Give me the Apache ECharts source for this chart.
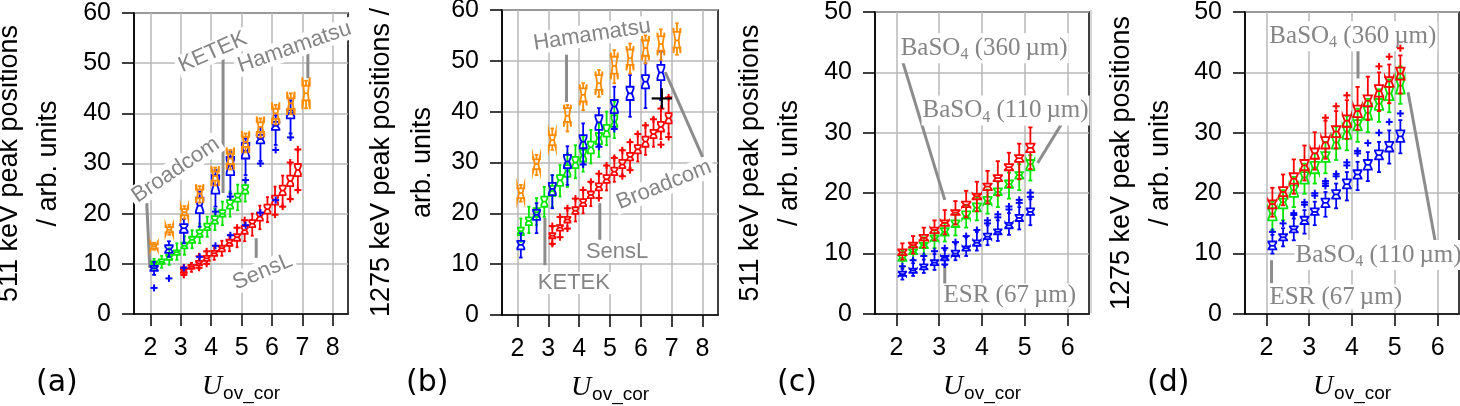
<!DOCTYPE html>
<html><head><meta charset="utf-8">
<script src="https://cdn.jsdelivr.net/npm/echarts@6/dist/echarts.min.js"></script>
<style>html,body{margin:0;padding:0;background:#fff}#c{width:1460px;height:406px}</style>
</head><body><div id="c"></div>
<script>
// ================= DATA =================
// box values: [lowWhisker, q1, median, q3, highWhisker]
// ---- panel (a): 511 keV ----
const aHamX = [2.12,2.62,3.12,3.62,4.13,4.63,5.13,5.62,6.12,6.62,7.12];
const aHam = [[12.8,13.1,13.5,13.9,14.2],[15.8,16.3,16.8,17.3,17.8],[19.0,19.7,20.3,20.9,21.5],[22.2,23.1,24.0,24.8,25.5],[25.6,26.6,27.5,28.4,29.2],[28.8,29.9,31.0,31.9,32.7],[32.2,33.3,34.3,35.3,36.0],[35.2,36.3,37.3,38.2,39.0],[37.8,38.9,40.0,40.9,41.7],[39.8,40.9,42.0,43.0,44.0],[41.0,42.6,44.0,45.5,46.5]];
const aBroX = [2.12,2.61,3.1,3.62,4.14,4.63,5.13,5.62,6.12,6.61];
const aBro = [[7.8,8.6,9.1,9.6,10.4],[11.4,12.2,12.9,13.7,14.5],[14.1,16.2,17.1,17.9,18.9],[17.4,20.1,21.6,23.2,24.4],[21.4,24.0,25.7,27.7,28.7],[24.0,27.7,29.5,31.3,32.3],[27.7,31.0,32.5,34.1,35.0],[30.5,34.0,34.9,35.7,37.3],[33.7,36.7,37.5,38.3,39.6],[36.0,39.0,40.0,40.6,42.6]];
const aBroOut = [[2.12,5.2],[2.61,7.1],[3.1,9.2],[3.62,11.4],[4.14,20.4],[4.14,13.6],[4.63,23.4],[4.63,15.7],[5.13,26.7],[5.13,17.7],[5.62,30.0],[5.62,20.2],[6.12,32.7],[6.12,22.7],[6.61,35.2]];
const aKetX = [2.12,2.37,2.62,2.87,3.12,3.37,3.62,3.87,4.12,4.37,4.62,4.87,5.12];
const aKet = [[9.0,9.7,10.1,10.5,11.0],[9.2,10.0,10.4,10.9,11.6],[9.8,10.8,11.3,11.8,13.1],[10.8,11.8,12.3,12.7,14.1],[11.8,13.1,13.6,14.2,15.5],[13.1,14.2,14.8,15.4,16.7],[14.1,15.4,16.0,16.7,18.0],[15.4,16.7,17.3,18.0,19.4],[16.7,18.0,18.7,19.5,21.0],[17.7,19.4,20.0,20.7,22.4],[19.4,21.0,21.8,22.7,24.4],[20.7,22.4,23.2,24.0,25.8],[22.4,24.0,24.8,25.7,26.6]];
const aSenX = [3.1,3.35,3.6,3.85,4.1,4.35,4.6,4.85,5.1,5.35,5.6,5.85,6.1,6.35,6.6,6.85];
const aSen = [[7.7,8.2,8.6,9.0,9.4],[8.4,9.0,9.4,9.8,10.2],[9.0,9.7,10.1,10.6,11.3],[9.9,10.6,11.1,11.6,12.5],[10.8,11.6,12.1,12.6,13.6],[11.6,12.5,13.1,13.6,14.6],[12.5,13.6,14.2,14.8,15.8],[13.3,14.6,15.3,15.9,17.1],[14.5,16.0,16.7,17.5,18.6],[15.6,17.3,18.0,18.7,20.0],[16.9,18.6,19.4,20.2,21.6],[18.3,20.0,20.9,21.8,23.3],[19.8,21.8,22.7,23.6,25.4],[21.5,23.7,24.6,25.6,27.6],[23.0,25.5,26.5,27.6,30.0],[24.7,27.5,28.7,29.9,32.7]];
const aSenOut = [[3.1,9.3],[3.1,7.8],[3.6,11.5],[3.6,9.2],[3.85,12.5],[3.85,10.0],[4.85,17.2],[5.1,18.7],[6.1,19.8],[6.35,21.4],[6.6,30.2],[6.6,22.9],[6.85,32.8],[6.85,24.7]];
// ---- panel (b): 1275 keV ----
const bHamX = [2.11,2.62,3.13,3.62,4.13,4.64,5.14,5.65,6.15,6.65,7.17];
const bHam = [[22.3,23.0,24.0,24.9,25.6],[27.5,28.7,29.7,30.6,31.5],[32.5,33.4,34.4,35.4,36.7],[36.1,38.0,39.2,40.7,41.3],[40.3,42.0,43.3,44.6,45.6],[42.9,44.3,45.6,47.2,48.2],[45.6,47.5,49.0,50.8,52.1],[47.5,49.2,50.5,52.2,53.4],[49.5,51.0,52.5,54.0,55.0],[50.2,52.0,53.3,54.8,56.2],[51.2,52.6,54.0,55.7,57.4]];
const bBroX = [2.11,2.62,3.13,3.62,4.13,4.64,5.14,5.65,6.15,6.65];
const bBro = [[11.3,12.9,13.8,14.6,16.1],[16.1,18.7,19.7,20.7,22.0],[21.0,23.6,24.8,26.0,27.5],[25.6,28.9,30.2,31.5,33.2],[29.8,32.8,34.1,35.4,37.7],[33.4,36.4,37.9,39.3,40.7],[37.0,39.7,41.0,42.3,44.9],[39.0,42.3,43.6,44.9,47.2],[40.7,44.6,45.9,47.2,49.5],[42.3,46.2,47.7,49.2,51.8]];
const bBroOut = [[4.13,29.6],[4.64,33.1],[5.14,36.6]];
const bKetX = [2.11,2.37,2.62,2.87,3.13,3.38,3.62,3.88,4.13,4.38,4.64,4.89,5.14];
const bKet = [[14.4,15.7,16.5,17.2,19.0],[16.1,17.7,18.5,19.2,21.3],[17.7,19.3,20.2,21.0,23.0],[19.3,21.3,22.3,23.3,25.2],[21.3,23.4,24.4,25.4,27.5],[23.3,25.4,26.5,27.5,29.5],[25.2,27.2,28.4,29.5,31.8],[26.9,28.9,30.0,31.1,33.4],[28.2,30.2,31.4,32.5,35.1],[29.8,31.8,33.0,34.1,36.4],[31.1,33.6,34.8,35.8,37.7],[33.4,35.1,36.2,37.4,40.0],[34.8,37.0,38.0,39.3,42.0]];
const bSenX = [3.13,3.38,3.62,3.88,4.13,4.38,4.64,4.89,5.14,5.4,5.65,5.9,6.15,6.41,6.65,6.9];
const bSen = [[13.8,15.1,15.6,16.1,17.4],[15.3,16.6,17.2,17.7,19.2],[16.9,18.2,18.8,19.3,21.0],[18.4,19.9,20.5,21.2,22.8],[20.0,21.4,22.1,22.8,24.6],[21.4,23.0,23.6,24.3,26.0],[23.0,24.5,25.2,25.9,27.7],[24.5,26.0,26.7,27.5,29.5],[26.2,27.5,28.2,29.0,31.1],[27.5,28.9,29.6,30.5,32.5],[28.9,30.4,31.1,31.9,34.1],[30.2,31.8,32.6,33.4,35.7],[31.5,33.1,34.1,35.1,37.4],[33.1,34.8,35.6,36.4,38.7],[34.6,36.1,37.0,38.0,40.7],[35.7,37.7,38.7,39.7,42.9]];
const bSenOut = [[3.13,17.5],[3.13,14.0],[3.38,19.3],[3.38,15.3],[3.62,21.0],[3.62,17.0],[3.88,22.9],[4.13,24.6],[4.38,26.2],[4.64,27.8],[4.64,23.0],[4.89,29.4],[5.14,30.9],[5.4,32.4],[5.4,27.3],[5.65,34.0],[5.65,28.5],[5.9,35.6],[6.15,37.3],[6.41,38.5],[6.65,40.6],[6.65,33.5],[6.9,42.8],[6.9,35.0]];
const bRef = [[6.68,42.6,0.33,2.0]]; // black reference cross: x, y, xerr, yerr
// ---- panel (c): 511 keV, reflectors ----
const cX = [2.14,2.39,2.64,2.89,3.13,3.38,3.63,3.88,4.13,4.37,4.63,4.87,5.13];
const cB360 = [[9.0,9.75,10.2,10.7,11.7],[10.0,11.0,11.4,11.8,12.9],[11.0,12.2,12.6,13.1,14.3],[12.2,13.4,13.9,14.3,15.5],[13.2,14.6,15.1,15.5,17.2],[14.8,16.4,16.8,17.2,18.7],[16.0,17.7,18.1,18.6,20.4],[17.0,19.0,19.5,19.9,21.9],[18.3,20.5,21.1,21.6,23.7],[19.6,22.0,22.5,23.0,25.3],[21.0,23.8,24.3,24.8,26.7],[22.3,25.2,25.8,26.3,28.2],[24.0,26.8,27.5,28.2,30.9]];
const cB110 = [[7.8,8.8,9.3,9.75,10.5],[9.0,9.9,10.3,10.7,11.3],[9.8,10.9,11.4,11.8,12.7],[10.9,12.1,12.5,13.0,13.9],[12.0,13.0,13.6,14.2,15.0],[13.0,14.4,14.9,15.5,16.5],[14.3,15.8,16.2,17.0,18.0],[15.5,17.0,17.6,18.3,19.4],[16.6,18.2,18.7,19.4,20.6],[17.7,19.7,20.2,20.8,21.9],[19.1,20.9,21.5,22.1,23.4],[20.5,22.4,23.0,23.5,24.8],[22.1,23.8,24.8,25.5,26.3]];
const cEsr = [[5.7,6.3,6.6,7.0,7.5],[6.3,6.8,7.2,7.5,8.4],[6.8,7.4,7.8,8.2,9.0],[7.3,8.1,8.5,8.9,9.9],[8.1,8.9,9.3,9.6,10.6],[8.9,9.6,10.0,10.5,11.7],[9.6,10.5,10.9,11.2,12.7],[10.5,11.3,11.8,12.2,13.6],[11.4,12.4,12.8,13.3,14.7],[12.1,13.2,13.6,14.0,15.5],[13.1,14.2,14.7,15.1,16.7],[14.0,15.4,15.9,16.4,17.7],[14.7,16.4,16.9,17.5,19.0]];
const cEsrOut = [[2.14,7.9],[2.39,8.9],[2.64,9.6],[2.89,10.4],[3.13,10.9],[3.13,8.2],[3.38,11.9],[3.63,12.9],[3.88,13.9],[4.13,15.0],[4.13,15.5],[4.37,16.0],[4.37,16.5],[4.63,17.3],[4.63,17.8],[4.87,18.4],[4.87,18.9],[5.13,19.4],[5.13,20.1]];
// ---- panel (d): 1275 keV, reflectors ----
const dX = [2.14,2.39,2.64,2.89,3.13,3.38,3.63,3.88,4.13,4.37,4.63,4.87,5.13];
const dB360 = [[16.1,17.5,18.2,18.8,20.9],[18.0,19.5,20.2,21.0,23.1],[19.9,21.6,22.4,23.3,25.6],[22.1,23.8,24.6,25.5,27.9],[23.9,25.7,26.6,27.4,30.1],[25.7,27.4,28.4,29.3,32.0],[27.4,29.3,30.2,31.1,33.6],[29.0,31.0,32.0,32.9,35.4],[30.5,32.6,33.6,34.5,37.6],[32.1,34.4,35.3,36.2,39.3],[33.6,36.0,36.9,37.9,40.0],[34.9,37.6,38.5,39.2,41.3],[36.5,38.8,39.8,40.8,42.8]];
const dB360Out = [[3.38,32.5],[3.63,34.4],[3.88,36.2],[4.63,41.0],[4.87,42.6],[5.13,44.0]];
const dB110 = [[13.9,15.5,16.6,17.5,18.6],[15.5,17.5,18.5,19.1,20.5],[17.7,19.4,20.5,21.3,22.7],[19.9,21.6,22.6,23.5,24.9],[21.6,23.3,24.2,25.2,26.6],[23.3,25.2,26.0,26.8,28.5],[25.5,27.4,28.4,29.3,31.0],[27.1,29.0,30.2,31.0,32.8],[28.5,30.4,31.3,32.1,34.0],[30.1,32.2,33.3,34.3,35.6],[31.8,33.8,34.8,35.6,37.2],[33.4,35.4,36.5,37.6,38.8],[34.8,36.5,37.8,39.0,41.0]];
const dEsr = [[10.0,10.7,11.3,12.0,13.1],[11.2,12.2,12.7,13.2,14.2],[12.2,13.5,14.0,14.5,15.8],[13.3,14.9,15.5,16.1,17.2],[14.7,16.4,16.9,17.5,18.6],[16.1,17.7,18.4,19.1,20.2],[17.5,19.1,19.8,20.5,21.6],[18.8,20.8,21.5,22.3,23.5],[20.5,22.4,23.1,23.8,25.2],[22.0,23.9,24.7,25.5,26.8],[23.5,25.6,26.3,27.1,28.5],[24.9,26.9,27.7,28.5,30.4],[26.6,28.5,29.4,30.4,32.1]];
const dEsrOut = [[2.14,13.6],[2.39,15.0],[2.64,16.4],[2.64,16.7],[2.89,18.1],[2.89,18.5],[3.13,19.6],[3.13,20.0],[3.38,21.2],[3.38,21.6],[3.38,22.0],[3.63,22.8],[3.63,23.2],[3.88,24.6],[3.88,25.1],[4.13,26.6],[4.13,27.0],[4.37,28.3],[4.63,30.0],[4.87,31.8],[5.13,33.2]];
// ---- tick labels ----
const xTicksAB = [2,3,4,5,6,7,8];
const xTicksCD = [2,3,4,5,6];
// ---- annotations: text, anchor (x,y) in data units, rotation (deg) ----
const annA = [['Broadcom',2.83,28.7,34],['KETEK',4.05,52.2,24],['Hamamatsu',6.74,53.2,19],['SensL',5.69,8.4,23]];
const annALines = [[1.88,22.1,1.98,9.2],[4.39,50.8,4.39,24.1],[7.18,52.0,7.18,47.0],[5.48,15.1,5.48,11.2]];
const annB = [['Hamamatsu',4.42,55.1,8.6],['KETEK',3.83,6.3,0],['SensL',5.23,12.4,0],['Broadcom',6.75,25.6,22]];
const annBLines = [[3.59,51.2,3.59,41.9],[2.89,19.1,2.89,9.8],[4.67,22.0,4.67,14.8],[6.79,47.8,8.0,31.1]];
const annC = [['BaSO{s|4} (360\u2009µm)',4.05,44.0,0],['BaSO{s|4} (110\u2009µm)',4.55,33.7,0],['ESR (67\u2009µm)',4.65,3.0,0]];
const annCLines = [[2.15,41.7,3.13,18.9],[5.88,31.7,5.3,25.0],[3.13,8.1,3.13,4.8]];
const annD = [['BaSO{s|4} (360\u2009µm)',4.02,46.0,0],['BaSO{s|4} (110\u2009µm)',4.62,9.75,0],['ESR (67\u2009µm)',3.62,2.8,0]];
const annDLines = [[4.14,44.0,4.14,39.0],[5.31,36.7,5.94,12.2],[2.12,8.9,2.12,5.1]];

// ================= STYLE =================
const ORANGE='#ff8c00', BLUE='#0000ff', GREEN='#00e600', RED='#ff0000';
const GRID='#b8b8b8', ANN='#858585', ANNLINE='#8c8c8c';
const SANS='Liberation Sans', SERIF='Liberation Serif';

function boxRender(color, w, k, lw) {
  return function (params, api) {
    const x = api.value(0), lo = api.value(1), q1 = api.value(2), md = api.value(3), q3 = api.value(4), hi = api.value(5);
    const n = k * (q3 - q1);
    const P = yy => api.coord([x, yy]);
    const cx = P(md)[0];
    const yLo = P(lo)[1], yQ1 = P(q1)[1], yMd = P(md)[1], yQ3 = P(q3)[1], yHi = P(hi)[1];
    const yNl = P(md - n)[1], yNh = P(md + n)[1];
    const h = w / 2, q = w / 4, c = w / 4;
    const pts = [[cx-h,yQ1],[cx+h,yQ1],[cx+h,yNl],[cx+q,yMd],[cx+h,yNh],[cx+h,yQ3],[cx-h,yQ3],[cx-h,yNh],[cx-q,yMd],[cx-h,yNl]];
    const st = {stroke: color, lineWidth: lw, fill: null};
    return {type: 'group', children: [
      {type: 'line', shape: {x1: cx, y1: yQ1, x2: cx, y2: yLo}, style: st},
      {type: 'line', shape: {x1: cx, y1: yQ3, x2: cx, y2: yHi}, style: st},
      {type: 'line', shape: {x1: cx-c, y1: yLo, x2: cx+c, y2: yLo}, style: st},
      {type: 'line', shape: {x1: cx-c, y1: yHi, x2: cx+c, y2: yHi}, style: st},
      {type: 'polygon', shape: {points: pts}, style: {stroke: color, lineWidth: lw, fill: 'rgba(255,255,255,0)'}},
      {type: 'line', shape: {x1: cx-q, y1: yMd, x2: cx+q, y2: yMd}, style: st}
    ]};
  };
}
function plusRender(color, s, lw) {
  return function (params, api) {
    const p = api.coord([api.value(0), api.value(1)]);
    return {type: 'group', children: [
      {type: 'line', shape: {x1: p[0]-s, y1: p[1], x2: p[0]+s, y2: p[1]}, style: {stroke: color, lineWidth: lw}},
      {type: 'line', shape: {x1: p[0], y1: p[1]-s, x2: p[0], y2: p[1]+s}, style: {stroke: color, lineWidth: lw}}
    ]};
  };
}
function crossRender(params, api) {
  const x = api.value(0), y = api.value(1), dx = api.value(2), dy = api.value(3);
  const a = api.coord([x - dx, y]), b = api.coord([x + dx, y]), c = api.coord([x, y - dy]), d = api.coord([x, y + dy]);
  const st = {stroke: '#000', lineWidth: 2.2};
  return {type: 'group', children: [
    {type: 'line', shape: {x1: a[0], y1: a[1], x2: b[0], y2: b[1]}, style: st},
    {type: 'line', shape: {x1: c[0], y1: c[1], x2: d[0], y2: d[1]}, style: st}
  ]};
}
function lineRender(params, api) {
  const a = api.coord([api.value(0), api.value(1)]), b = api.coord([api.value(2), api.value(3)]);
  return {type: 'line', shape: {x1: a[0], y1: a[1], x2: b[0], y2: b[1]}, style: {stroke: ANNLINE, lineWidth: 3}};
}
function textRender(list, serif) {
  return function (params, api) {
    const item = list[params.dataIndex];
    const p = api.coord([api.value(0), api.value(1)]);
    const style = serif ? {
      text: item[0], fontFamily: SERIF, fontSize: 25, fill: ANN, align: 'center', verticalAlign: 'middle',
      backgroundColor: '#fff', padding: [0, 1],
      rich: {s: {fontFamily: SERIF, fontSize: 16, fill: ANN, verticalAlign: 'top', padding: [14, 0, 0, 0]}}
    } : {
      text: item[0], fontFamily: SANS, fontSize: 22, fill: ANN, align: 'center', verticalAlign: 'middle',
      backgroundColor: '#fff', padding: [0, 3]
    };
    return {type: 'text', x: p[0], y: p[1], rotation: item[3] * Math.PI / 180, style: style};
  };
}

const panels = [
  {g: [134, 13, 214, 301], xr: [1.46, 8.5], xt: xTicksAB, ymax: 60, name: '511 keV peak positions\n/ arb. units', gap: 66, lh: 39,
   boxes: [[aKetX, aKet, GREEN, 6, 0.3], [aSenX, aSen, RED, 6, 0.3], [aBroX, aBro, BLUE, 7.5, 0.35], [aHamX, aHam, ORANGE, 7.5, 1.1]],
   outs: [[aSenOut, RED], [aBroOut, BLUE]], ann: annA, annLines: annALines, serif: false, label: '(a)', lx: 59},
  {g: [502, 10, 216, 305], xr: [1.5, 8.5], xt: xTicksAB, ymax: 60, name: '1275 keV peak positions /\narb. units', gap: 59, lh: 41,
   boxes: [[bKetX, bKet, GREEN, 6, 0.3], [bSenX, bSen, RED, 6, 0.3], [bBroX, bBro, BLUE, 7, 0.35], [bHamX, bHam, ORANGE, 7, 0.8]],
   outs: [[bSenOut, RED], [bBroOut, BLUE]], ann: annB, annLines: annBLines, serif: false, label: '(b)', lx: 429, cross: bRef},
  {g: [875, 12, 214, 302], xr: [1.5, 6.5], xt: xTicksCD, ymax: 50, name: '511 keV peak positions\n/ arb. units', gap: 66, lh: 39,
   boxes: [[cX, cEsr, BLUE, 7.5, 0.45], [cX, cB110, GREEN, 8, 0.45], [cX, cB360, RED, 8.5, 0.45]],
   outs: [[cEsrOut, BLUE]], ann: annC, annLines: annCLines, serif: true, label: '(c)', lx: 800},
  {g: [1245, 12, 214, 302], xr: [1.5, 6.5], xt: xTicksCD, ymax: 50, name: '1275 keV peak positions\n/ arb. units', gap: 65, lh: 39,
   boxes: [[dX, dEsr, BLUE, 8, 0.45], [dX, dB110, GREEN, 8.5, 0.5], [dX, dB360, RED, 8.5, 0.5]],
   outs: [[dEsrOut, BLUE], [dB360Out, RED]], ann: annD, annLines: annDLines, serif: true, label: '(d)', lx: 1170}
];

const grid = [], xAxis = [], yAxis = [], series = [], graphic = [];
panels.forEach((p, i) => {
  grid.push({left: p.g[0], top: p.g[1], width: p.g[2], height: p.g[3], show: true, borderColor: '#000', borderWidth: 1.5,
    backgroundColor: '#fff', containLabel: false, outerBoundsMode: 'none'});
  xAxis.push({
    type: 'value', gridIndex: i, min: p.xr[0], max: p.xr[1], splitNumber: 7,
    axisLine: {show: true, onZero: false, lineStyle: {color: '#000', width: 1.5}},
    axisTick: {show: true, customValues: p.xt, length: 12, lineStyle: {color: '#000', width: 1.5}},
    axisLabel: {customValues: p.xt, margin: 22, color: '#000', fontSize: 25, fontFamily: SANS},
    splitLine: {show: true, lineStyle: {color: GRID, width: 1.5}},
    name: '{u|U}{s|ov_cor}', nameLocation: 'middle', nameGap: 57,
    nameTextStyle: {rich: {
      u: {fontFamily: SERIF, fontStyle: 'italic', fontSize: 28, color: '#000'},
      s: {fontFamily: SANS, fontSize: 19, color: '#000', verticalAlign: 'top', padding: [13, 0, 0, 1]}
    }}
  });
  yAxis.push({
    type: 'value', gridIndex: i, min: 0, max: p.ymax, interval: 10,
    axisLine: {show: true, lineStyle: {color: '#000', width: 1.5}},
    axisTick: {show: true, length: 12, lineStyle: {color: '#000', width: 1.5}},
    axisLabel: {margin: 23, color: '#000', fontSize: 25, fontFamily: SANS},
    splitLine: {show: true, lineStyle: {color: GRID, width: 1.5}},
    name: p.name, nameLocation: 'middle', nameRotate: 90, nameGap: p.gap,
    nameTextStyle: {fontFamily: SANS, fontSize: 27, lineHeight: p.lh, color: '#000'}
  });
  series.push({type: 'custom', xAxisIndex: i, yAxisIndex: i, z: 3, silent: true,
    data: p.annLines, encode: {x: [0, 2], y: [1, 3]}, renderItem: lineRender});
  series.push({type: 'custom', xAxisIndex: i, yAxisIndex: i, z: 3, silent: true,
    data: p.ann.map(a => [a[1], a[2]]), encode: {x: 0, y: 1}, renderItem: textRender(p.ann, p.serif)});
  p.boxes.forEach(b => {
    series.push({type: 'custom', xAxisIndex: i, yAxisIndex: i, z: 4, silent: true,
      data: b[0].map((xx, j) => [xx].concat(b[1][j])), encode: {x: 0, y: [1, 2, 3, 4, 5]},
      renderItem: boxRender(b[2], b[3], b[4], 1.8)});
  });
  p.outs.forEach(o => {
    series.push({type: 'custom', xAxisIndex: i, yAxisIndex: i, z: 4, silent: true,
      data: o[0], encode: {x: 0, y: 1}, renderItem: plusRender(o[1], 3.5, 2)});
  });
  if (p.cross) {
    series.push({type: 'custom', xAxisIndex: i, yAxisIndex: i, z: 5, silent: true,
      data: p.cross, encode: {x: 0, y: 1}, renderItem: crossRender});
  }
  graphic.push({type: 'text', left: p.lx - 23, top: 368, style: {text: p.label, font: '30px "DejaVu Sans"', fill: '#000'}});
});
graphic.push({type: 'line', shape: {x1: 1091, y1: 10, x2: 1091, y2: 313}, style: {stroke: '#c8c8c8', lineWidth: 1.5}});

const chart = echarts.init(document.getElementById('c'), null, {renderer: 'canvas'});
chart.setOption({animation: false, backgroundColor: '#fff', grid, xAxis, yAxis, series, graphic});
</script></body></html>
